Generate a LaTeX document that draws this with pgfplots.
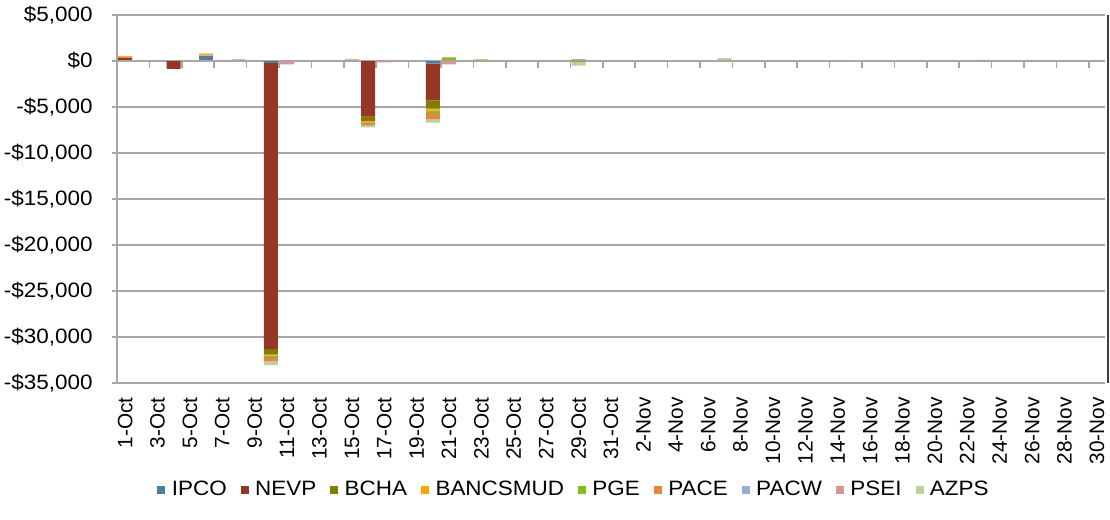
\documentclass[border=0pt]{standalone}
\usepackage{pgfplots}
\usepackage{pgfplotstable}
\usepackage{fontspec}
\pgfplotsset{compat=1.18}
\setmainfont{Liberation Sans}[FakeStretch=1.08]
\newfontfamily\xlab{Liberation Sans}

\definecolor{cIPCO}{HTML}{4F7D9B}
\definecolor{cNEVP}{HTML}{963726}
\definecolor{cBCHA}{HTML}{807C00}
\definecolor{cBANC}{HTML}{FFA500}
\definecolor{cPGE}{HTML}{87BE14}
\definecolor{cPACE}{HTML}{E18741}
\definecolor{cPACW}{HTML}{96AFD2}
\definecolor{cPSEI}{HTML}{D79696}
\definecolor{cAZPS}{HTML}{B9D296}
\definecolor{gridgray}{HTML}{A6A6A6}

% daily values, 1-Oct (i=0) to 30-Nov (i=60)
\pgfplotstableread{
i IPCO NEVP BCHA BANC PGE PACE PACW PSEI AZPS
0 0 330 0 80 0 100 0 0 60
1 0 0 0 0 0 0 0 0 0
2 0 0 0 0 0 0 0 0 0
3 0 -850 0 0 0 0 0 0 0
4 0 0 0 0 0 0 0 0 0
5 550 0 0 60 40 80 0 0 100
6 0 0 0 0 0 0 0 0 0
7 0 60 0 0 0 120 0 0 0
8 0 0 0 0 0 0 -60 0 0
9 -200 -31100 -620 -110 -160 -400 0 -100 -360
10 0 0 0 0 0 0 -60 -300 0
11 0 0 0 0 0 0 0 0 0
12 0 0 0 0 0 0 80 0 0
13 0 0 0 0 0 0 0 0 0
14 0 0 60 0 0 80 0 0 80
15 0 -6050 -470 -110 -80 -270 0 -50 -180
16 0 0 0 0 0 0 0 -150 0
17 0 0 0 0 0 0 0 0 0
18 0 0 0 0 0 0 0 0 0
19 -290 -3990 -900 -220 -250 -690 0 0 -370
20 0 0 0 0 380 0 40 -330 -40
21 0 0 0 0 0 0 0 0 0
22 0 0 60 0 120 0 0 0 0
23 0 0 0 0 0 0 0 0 0
24 0 0 0 0 0 0 0 0 0
25 0 0 0 0 0 0 0 0 0
26 0 0 0 0 0 0 0 0 0
27 0 0 0 0 0 0 0 0 0
28 0 0 -40 0 120 -40 80 0 -420
29 0 0 0 0 0 0 0 0 0
30 0 0 0 0 0 0 0 0 0
31 0 0 0 0 0 0 0 0 0
32 0 0 30 0 0 40 0 0 0
33 0 0 0 0 0 0 0 0 0
34 0 0 0 0 0 0 0 0 0
35 0 0 0 0 0 0 0 0 0
36 0 0 0 0 0 0 0 0 0
37 0 0 0 0 80 0 0 0 220
38 0 0 0 0 0 0 0 0 0
39 0 0 0 0 0 0 0 0 0
40 0 0 0 0 0 0 0 0 0
41 0 0 0 0 0 0 0 0 0
42 0 0 0 0 0 0 0 0 0
43 0 0 0 0 0 0 0 0 0
44 0 0 0 0 0 0 0 0 0
45 0 0 0 0 0 0 0 0 -50
46 0 0 0 0 0 0 0 0 0
47 0 0 0 0 0 0 0 0 50
48 0 0 0 0 0 0 0 0 0
49 0 0 0 0 0 0 0 0 0
50 0 0 0 0 0 0 0 0 0
51 0 0 0 0 0 0 0 0 0
52 0 0 0 0 0 0 0 0 0
53 0 0 50 0 0 60 0 0 0
54 0 0 40 0 0 0 0 0 0
55 0 0 0 0 0 0 0 0 0
56 0 0 0 0 0 40 0 0 80
57 0 0 0 0 0 0 0 0 0
58 0 0 40 0 0 0 0 0 0
59 0 0 0 0 0 0 0 0 0
60 0 0 0 0 0 0 0 0 0
}\flows

\pgfplotsset{
  common/.style={
    width=494pt, height=184pt, scale only axis,
    xmin=-0.5, xmax=60.5, ymin=-35000, ymax=5000,
    ybar stacked, bar width=0.86,
  },
}

\begin{document}
\begin{tikzpicture}
\useasboundingbox (-58.5pt,-68.5pt) rectangle (496.5pt,191.5pt);
% positive parts
\begin{axis}[common,
    axis y line*=left, axis x line*=bottom,
    x axis line style={draw=none},
    y axis line style={gridgray, line width=0.8pt},
    ymajorgrids, grid style={gridgray, line width=0.8pt},
    scaled y ticks=false,
    ytick={-35000,-30000,...,5000},
    yticklabels={{-\$35,000},{-\$30,000},{-\$25,000},{-\$20,000},{-\$15,000},{-\$10,000},{-\$5,000},{\$0},{\$5,000}},
    tick align=outside, major tick length=2.5pt,
    ytick style={gridgray, line width=0.8pt},
    xtick style={draw=none},
    xtick={0,2,...,60},
    xticklabels={1-Oct,3-Oct,5-Oct,7-Oct,9-Oct,11-Oct,13-Oct,15-Oct,17-Oct,19-Oct,21-Oct,23-Oct,25-Oct,27-Oct,29-Oct,31-Oct,2-Nov,4-Nov,6-Nov,8-Nov,10-Nov,12-Nov,14-Nov,16-Nov,18-Nov,20-Nov,22-Nov,24-Nov,26-Nov,28-Nov,30-Nov},
    yticklabel style={font=\fontsize{10.4}{12}\selectfont, inner sep=0pt, xshift=-9.5pt},
    xticklabel style={font=\xlab\fontsize{10.4}{12}\selectfont, rotate=90, anchor=east, inner sep=0pt, xshift=-4.5pt},
    legend columns=9,
    legend style={draw=none, at={(0.4636,-0.291)}, anchor=center,
      font=\fontsize{10.4}{12}\selectfont,
      /tikz/every odd column/.append style={column sep=1.2pt},
      /tikz/every even column/.append style={column sep=5pt}},
    legend image code/.code={\fill[#1] (0pt,-2pt) rectangle (4pt,2pt);},
  ]
  \addplot[fill=cIPCO, draw=none] table[x=i, y expr={max(\thisrow{IPCO},0)}] {\flows};
  \addplot[fill=cNEVP, draw=none] table[x=i, y expr={max(\thisrow{NEVP},0)}] {\flows};
  \addplot[fill=cBCHA, draw=none] table[x=i, y expr={max(\thisrow{BCHA},0)}] {\flows};
  \addplot[fill=cBANC, draw=none] table[x=i, y expr={max(\thisrow{BANC},0)}] {\flows};
  \addplot[fill=cPGE, draw=none] table[x=i, y expr={max(\thisrow{PGE},0)}] {\flows};
  \addplot[fill=cPACE, draw=none] table[x=i, y expr={max(\thisrow{PACE},0)}] {\flows};
  \addplot[fill=cPACW, draw=none] table[x=i, y expr={max(\thisrow{PACW},0)}] {\flows};
  \addplot[fill=cPSEI, draw=none] table[x=i, y expr={max(\thisrow{PSEI},0)}] {\flows};
  \addplot[fill=cAZPS, draw=none] table[x=i, y expr={max(\thisrow{AZPS},0)}] {\flows};
  \legend{IPCO,NEVP,BCHA,BANCSMUD,PGE,PACE,PACW,PSEI,AZPS}
\end{axis}
% negative parts
\begin{axis}[common, hide axis]
  \addplot[fill=cIPCO, draw=none] table[x=i, y expr={min(\thisrow{IPCO},0)}] {\flows};
  \addplot[fill=cNEVP, draw=none] table[x=i, y expr={min(\thisrow{NEVP},0)}] {\flows};
  \addplot[fill=cBCHA, draw=none] table[x=i, y expr={min(\thisrow{BCHA},0)}] {\flows};
  \addplot[fill=cBANC, draw=none] table[x=i, y expr={min(\thisrow{BANC},0)}] {\flows};
  \addplot[fill=cPGE, draw=none] table[x=i, y expr={min(\thisrow{PGE},0)}] {\flows};
  \addplot[fill=cPACE, draw=none] table[x=i, y expr={min(\thisrow{PACE},0)}] {\flows};
  \addplot[fill=cPACW, draw=none] table[x=i, y expr={min(\thisrow{PACW},0)}] {\flows};
  \addplot[fill=cPSEI, draw=none] table[x=i, y expr={min(\thisrow{PSEI},0)}] {\flows};
  \addplot[fill=cAZPS, draw=none] table[x=i, y expr={min(\thisrow{AZPS},0)}] {\flows};
  \draw[gridgray, line width=0.8pt] (axis cs:-0.5,0) -- (axis cs:60.5,0);
  \pgfplotsinvokeforeach{1.5,3.5,...,59.5}{
    \draw[gridgray, line width=0.8pt] (axis cs:#1,0) -- ([yshift=-3.5pt]axis cs:#1,0);
  }
\end{axis}
\draw[black!75, line width=1pt] (495.5pt,0pt) -- (495.5pt,184pt);
\end{tikzpicture}
\end{document}
